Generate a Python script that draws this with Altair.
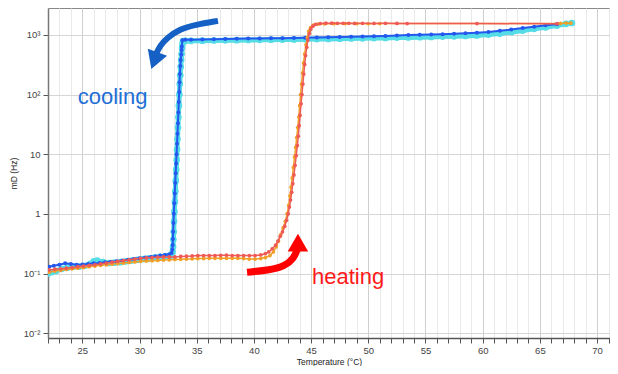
import altair as alt
import pandas as pd

# ---------------- data ----------------
cool_dark_T = [66.5, 65.5, 64.5, 63.5, 62.5, 61.5, 60.5, 59.5, 58.5, 57.5, 56.5, 55.5, 54.5, 53.5,
               52.5, 51.5, 50.5, 49.5, 48.5, 47.5, 46.5, 45.5, 44.5, 43.5, 42.5, 41.5, 40.5, 39.5,
               38.5, 37.5, 36.5, 35.5, 34.5, 34.0, 33.75,
               33.7, 33.68, 33.65, 33.6, 33.57, 33.53, 33.5, 33.47, 33.43, 33.4, 33.36, 33.32, 33.28,
               33.24, 33.2, 33.16, 33.12, 33.08, 33.04, 33.0, 32.97, 32.94, 32.92, 32.9, 32.87, 32.8, 32.6,
               32.2, 31.8, 31.4, 31.0, 30.5, 30.0, 29.5, 29.0, 28.5, 28.0, 27.5, 27.0, 26.5, 26.0,
               25.5, 25.0, 24.5, 24.0, 23.5, 23.0, 22.5, 22.1]
cool_dark_mD = [1500, 1450, 1370, 1300, 1230, 1170, 1120, 1090, 1060, 1040, 1020, 1010, 1000, 990,
                975, 960, 950, 940, 930, 920, 910, 900, 895, 890, 880, 875, 870, 865,
                860, 850, 845, 840, 830, 825, 815,
                640, 560, 470, 380, 300, 220, 160, 110, 75, 50, 33, 22, 15,
                10, 7, 4.8, 3.3, 2.2, 1.5, 1.0, 0.7, 0.5, 0.38, 0.3, 0.25, 0.22, 0.21,
                0.205, 0.2, 0.195, 0.19, 0.185, 0.18, 0.175, 0.17, 0.165, 0.16, 0.158, 0.155, 0.15, 0.148,
                0.145, 0.142, 0.14, 0.145, 0.148, 0.14, 0.135, 0.13]

cool_light_T = [67.8, 67.3, 66.5, 65.5, 64.5, 63.5, 62.5, 61.5, 60.5, 59.5, 58.5, 57.5, 56.5, 55.5,
                54.5, 53.5, 52.5, 51.5, 50.5, 49.5, 48.5, 47.5, 46.5, 45.5, 44.5, 43.5, 42.5, 41.5,
                40.5, 39.5, 38.5, 37.5, 36.5, 35.5, 34.5, 34.0, 33.8,
                33.75, 33.72, 33.68, 33.64, 33.6, 33.56, 33.52, 33.48, 33.44, 33.4, 33.36, 33.32, 33.28,
                33.25, 33.21, 33.17, 33.13, 33.09, 33.05, 33.02, 32.99, 32.96, 32.93, 32.9, 32.8,
                32.3, 31.8, 31.3, 30.8, 30.3, 29.8, 29.3, 28.8, 28.3, 27.8, 27.3, 26.8, 26.3, 26.0,
                25.7, 25.2, 24.7, 24.2, 23.7, 23.2, 22.7, 22.3, 22.0]
cool_light_mD = [1580, 1530, 1430, 1340, 1260, 1180, 1110, 1050, 1010, 980, 960, 945, 935, 925,
                 915, 905, 900, 890, 885, 875, 870, 860, 855, 850, 845, 840, 835, 830,
                 825, 820, 815, 810, 805, 800, 795, 790, 785,
                 700, 600, 480, 380, 290, 210, 150, 100, 65, 42, 28, 18, 12,
                 8, 5.5, 3.6, 2.4, 1.6, 1.1, 0.75, 0.5, 0.37, 0.28, 0.23, 0.2,
                 0.195, 0.19, 0.185, 0.18, 0.175, 0.17, 0.165, 0.16, 0.155, 0.152, 0.15, 0.155, 0.165, 0.16,
                 0.145, 0.135, 0.13, 0.13, 0.125, 0.12, 0.11, 0.105, 0.1]

heat_orange_T = [22.1, 22.6, 23.1, 23.6, 24.1, 24.6, 25.1, 25.6, 26.1, 26.6, 27.1, 27.6, 28.1, 28.6,
                 29.1, 29.6, 30.1, 30.6, 31.1, 31.6, 32.1, 32.6, 33.1, 33.6, 34.1, 34.6, 35.1, 35.6,
                 36.1, 36.6, 37.1, 37.6, 38.1, 38.6, 39.1, 39.6, 40.1, 40.6, 41.0, 41.4, 41.7, 41.95,
                 42.15, 42.35, 42.55, 42.75, 42.9, 43.05, 43.15, 43.25, 43.35, 43.45, 43.55, 43.65,
                 43.74, 43.83, 43.92, 44.0, 44.08, 44.16, 44.25, 44.34, 44.44, 44.55, 44.67, 44.8,
                 44.95, 45.2, 45.6, 46.2, 47.0, 48.0, 49.0, 50.0, 51.0, 66.8, 67.3, 67.7]
heat_orange_mD = [0.105, 0.11, 0.113, 0.117, 0.12, 0.123, 0.126, 0.13, 0.133, 0.137, 0.14, 0.143, 0.147, 0.15,
                  0.153, 0.156, 0.16, 0.162, 0.164, 0.166, 0.168, 0.17, 0.172, 0.173, 0.175, 0.176, 0.178, 0.178,
                  0.18, 0.18, 0.18, 0.18, 0.18, 0.18, 0.178, 0.175, 0.175, 0.178, 0.185, 0.2, 0.23, 0.28,
                  0.35, 0.45, 0.58, 0.75, 1.0, 1.4, 2.0, 2.8, 4.0, 6, 9, 13,
                  19, 28, 42, 65, 100, 150, 230, 340, 480, 680, 900, 1150,
                  1320, 1450, 1510, 1530, 1540, 1545, 1545, 1540, 1545, 1555, 1580, 1570]

heat_red_T = [22.1, 22.6, 23.1, 23.6, 24.1, 24.6, 25.1, 25.6, 26.1, 26.6, 27.1, 27.6, 28.1, 28.6,
              29.1, 29.6, 30.1, 30.6, 31.1, 31.6, 32.1, 32.6, 33.1, 33.6, 34.1, 34.6, 35.1, 35.6,
              36.1, 36.6, 37.1, 37.6, 38.1, 38.6, 39.1, 39.6, 40.1, 40.6, 41.0, 41.3, 41.6, 41.9,
              42.1, 42.3, 42.5, 42.7, 42.85, 43.0, 43.1, 43.2, 43.3, 43.4, 43.5, 43.6, 43.7, 43.8,
              43.88, 43.96, 44.04, 44.12, 44.2, 44.28, 44.36, 44.44, 44.52, 44.62, 44.72, 44.84,
              44.98, 45.15, 45.4, 45.8, 46.3, 46.8, 47.3, 47.8, 48.3, 48.8, 49.5, 50.5, 51.5, 52.5,
              53.4, 59.5, 66.5]
heat_red_mD = [0.115, 0.118, 0.12, 0.123, 0.126, 0.13, 0.133, 0.137, 0.14, 0.145, 0.15, 0.155, 0.16, 0.165,
               0.17, 0.175, 0.18, 0.182, 0.185, 0.188, 0.19, 0.19, 0.19, 0.193, 0.195, 0.197, 0.2, 0.2,
               0.2, 0.2, 0.202, 0.203, 0.2, 0.2, 0.2, 0.2, 0.2, 0.205, 0.215, 0.23, 0.26, 0.3,
               0.35, 0.42, 0.5, 0.62, 0.78, 1.0, 1.3, 1.7, 2.3, 3.2, 4.5, 6.5, 9.5, 14,
               20, 30, 45, 70, 100, 150, 220, 320, 450, 620, 820, 1050,
               1250, 1400, 1500, 1550, 1570, 1570, 1560, 1560, 1565, 1555, 1560, 1555, 1560, 1555,
               1550, 1545, 1540]

# annotation arrows (in data coordinates)
cool_arrow_T = [36.86, 34.85, 33.54, 32.40, 31.79, 31.45]
cool_arrow_mD = [1718, 1473, 1260, 890, 654, 480]
cool_head_T = [31.3]
cool_head_mD = [370]

heat_arrow_T = [39.40, 41.41, 42.72, 43.50, 43.77, 43.83]
heat_arrow_mD = [0.105, 0.114, 0.133, 0.181, 0.247, 0.28]
heat_head_T = [43.85]
heat_head_mD = [0.33]

labels_text = ["cooling", "heating"]
labels_T = [24.6, 45.08]
labels_mD = [91, 0.087]
labels_color = ["#1f6fd6", "#ff1a1a"]

x_ticks = list(range(22, 72))
y_ticks = [0.01, 0.1, 1, 10, 100, 1000]

# ---------------- chart ----------------
FONT = "Liberation Sans"

xscale = alt.Scale(domain=[22, 71.13], nice=False, zero=False)
yscale = alt.Scale(type="log", domain=[0.0083, 2820], nice=False)

xaxis = alt.Axis(
    values=x_ticks,
    labelExpr="datum.value % 5 === 0 ? datum.label : ''",
    grid=True,
    gridColor=alt.condition("datum.value % 5 === 0", alt.value("#cfcfcf"), alt.value("#e9e9e9")),
    gridWidth=1,
    tickColor="#555", tickSize=5, tickWidth=1,
    domainColor="#555", domainWidth=1.5,
    labelFont=FONT, labelFontSize=9.5, labelColor="#444", labelPadding=2,
    titleFont=FONT, titleFontSize=8.5, titleFontWeight="normal", titleColor="#222", titlePadding=3,
)
yaxis = alt.Axis(
    values=y_ticks,
    labelExpr=("datum.value > 500 ? '10³' : datum.value > 50 ? '10²' : datum.value > 5 ? '10' : "
               "datum.value > 0.5 ? '1' : datum.value > 0.05 ? '10⁻¹' : '10⁻²'"),
    grid=True, gridColor="#d6d6d6", gridWidth=1,
    tickColor="#555", tickSize=5, tickWidth=1,
    domainColor="#777", domainWidth=1.5,
    labelFont=FONT, labelFontSize=9.5, labelColor="#444", labelPadding=3,
    titleFont=FONT, titleFontSize=8.5, titleFontWeight="normal", titleColor="#222",
    titleX=-30, titleY=165,
)

X = alt.X("T:Q", scale=xscale, axis=xaxis, title="Temperature (°C)")
Y = alt.Y("mD:Q", scale=yscale, axis=yaxis, title="mD (Hz)")


def frame(ts, vs):
    return pd.DataFrame({"T": ts, "mD": vs, "i": range(len(ts))})


def series(ts, vs, color, lw, size):
    df = frame(ts, vs)
    base = alt.Chart(df).encode(x=X, y=Y, order=alt.Order("i:Q"))
    line = base.mark_line(color=color, strokeWidth=lw, clip=True)
    pts = base.mark_circle(color=color, size=size, opacity=1, clip=True)
    return [line, pts]


layers = []
layers += series(cool_light_T, cool_light_mD, "#55dce6", 5, 45)
layers += series(cool_dark_T, cool_dark_mD, "#2457ee", 2, 16)
layers += series(heat_orange_T, heat_orange_mD, "#f0a028", 1.5, 14)
layers += series(heat_red_T, heat_red_mD, "#ef5a55", 1.5, 14)

# arrows
cool_arrow = alt.Chart(frame(cool_arrow_T, cool_arrow_mD)).mark_line(
    color="#1560c4", strokeWidth=6, interpolate="basis", strokeCap="butt"
).encode(x=X, y=Y, order=alt.Order("i:Q"))
cool_head = alt.Chart(frame(cool_head_T, cool_head_mD)).mark_point(
    shape="triangle-up", filled=True, color="#1560c4", size=420, angle=200, opacity=1
).encode(x=X, y=Y)
heat_arrow = alt.Chart(frame(heat_arrow_T, heat_arrow_mD)).mark_line(
    color="#ff0000", strokeWidth=7, interpolate="basis", strokeCap="butt"
).encode(x=X, y=Y, order=alt.Order("i:Q"))
heat_head = alt.Chart(frame(heat_head_T, heat_head_mD)).mark_point(
    shape="triangle-up", filled=True, color="#ff0000", size=420, angle=0, opacity=1
).encode(x=X, y=Y)

labels_df = pd.DataFrame({"T": labels_T, "mD": labels_mD, "txt": labels_text, "c": labels_color})
labels = alt.Chart(labels_df).mark_text(
    align="left", baseline="middle", font=FONT, fontSize=22
).encode(x=X, y=Y, text="txt:N", color=alt.Color("c:N", scale=None))

layers += [cool_arrow, cool_head, heat_arrow, heat_head, labels]

chart = alt.layer(*layers).properties(
    width=562, height=330,
    autosize=alt.AutoSizeParams(type="none"),
    padding={"left": 40, "top": 0, "right": 0, "bottom": 28},
).configure_view(stroke="#888", strokeWidth=1)

chart.save("out.html", embed_options={"renderer": "svg", "actions": False})
